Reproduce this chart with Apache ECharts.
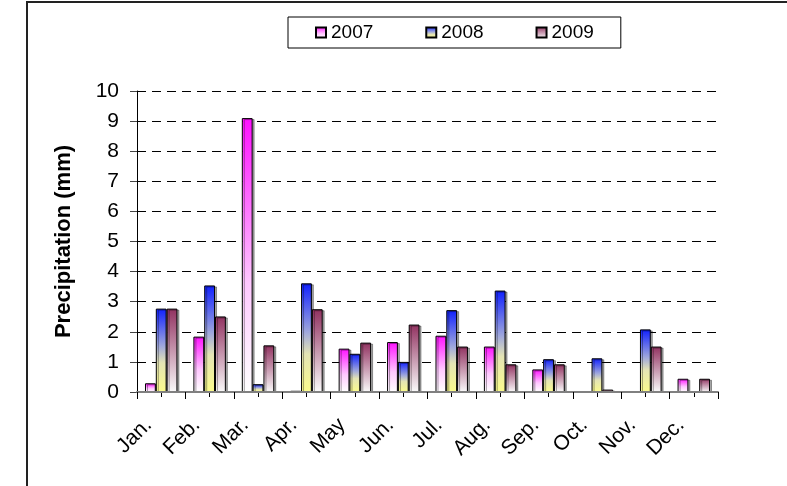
<!DOCTYPE html>
<html>
<head>
<meta charset="utf-8">
<script src="https://cdn.jsdelivr.net/npm/echarts@6/dist/echarts.min.js"></script>
<style>
  html, body { margin: 0; padding: 0; background: #fff; }
  #chart { width: 787px; height: 486px; }
</style>
</head>
<body>
<div id="chart"></div>
<script>
// month categories and monthly precipitation per year (mm); null = no bar drawn
const months = ["Jan.", "Feb.", "Mar.", "Apr.", "May", "Jun.", "Jul.", "Aug.", "Sep.", "Oct.", "Nov.", "Dec."];
const years = ["2007", "2008", "2009"];
const p2007 = [0.29, 1.84, 9.10, 0.04, 1.44, 1.66, 1.87, 1.51, 0.75, null, null, 0.44];
const p2008 = [2.77, 3.54, 0.26, 3.61, 1.27, 1.00, 2.72, 3.37, 1.09, 1.12, 2.08, null];
const p2009 = [2.77, 2.51, 1.55, 2.75, 1.64, 2.24, 1.51, 0.92, 0.92, 0.08, 1.51, 0.44];
const yTicks = [0, 1, 2, 3, 4, 5, 6, 7, 8, 9, 10];

const chart = echarts.init(document.getElementById("chart"));
const font = "Liberation Sans, Arial, sans-serif";

// vertical gradient per bar, top colour -> bottom colour
function grad(stops) {
  return new echarts.graphic.LinearGradient(0, 0, 0, 1,
    stops.map((c) => ({ offset: c[0], color: c[1] })));
}
const fills = [
  grad([[0, "#ff10ff"], [0.6, "#ffc8ff"], [1, "#ffffff"]]),
  grad([[0, "#1020ff"], [0.45, "#a0a8dc"], [0.65, "#e4e4b4"], [1, "#fbfb8c"]]),
  grad([[0, "#913160"], [1, "#fafafa"]])
];

function barSeries(name, data, fill) {
  return {
    name: name,
    type: "bar",
    data: data,
    barGap: "0%",
    barCategoryGap: "33%",
    itemStyle: {
      color: fill,
      borderColor: "#000",
      borderWidth: 1,
      shadowColor: "rgba(0,0,0,0.35)",
      shadowOffsetX: 2,
      shadowOffsetY: 1
    }
  };
}

const option = {
  animation: false,
  backgroundColor: "#fff",
  textStyle: { fontFamily: font, color: "#000" },
  graphic: [{
    type: "rect",
    shape: { x: 27, y: 2, width: 800, height: 600 },
    style: { fill: null, stroke: "#222", lineWidth: 2 },
    silent: true
  }],
  legend: {
    left: 288,
    top: 17,
    data: years,
    itemWidth: 10,
    itemHeight: 10,
    itemGap: 52,
    padding: [6, 27],
    borderColor: "#000",
    borderWidth: 1,
    backgroundColor: "#fff",
    icon: "rect",
    textStyle: { fontSize: 19, fontFamily: font, color: "#000" }
  },
  grid: { left: 137, right: 69, top: 91, bottom: 94, containLabel: false },
  xAxis: [{
    type: "category",
    data: months,
    z: 3,
    axisLine: { lineStyle: { color: "#808080", width: 2 } },
    axisTick: { show: true, length: 7, lineStyle: { color: "#000" } },
    axisLabel: {
      rotate: 45,
      fontSize: 21,
      fontFamily: font,
      color: "#000",
      margin: 17,
      padding: [0, 18, 0, 0],
      interval: 0
    }
  }, {
    // ticks at the centre of each month
    type: "category",
    data: months,
    position: "bottom",
    axisLine: { show: false },
    axisTick: { show: true, alignWithLabel: true, length: 5, lineStyle: { color: "#000" } },
    axisLabel: { show: false }
  }],
  yAxis: {
    type: "value",
    min: yTicks[0],
    max: yTicks[yTicks.length - 1],
    interval: 1,
    name: "Precipitation (mm)",
    nameLocation: "middle",
    nameGap: 62,
    nameTextStyle: { fontSize: 22, fontWeight: "bold", fontFamily: font, color: "#000" },
    axisLine: { show: true, lineStyle: { color: "#000", width: 1 } },
    axisTick: { show: true, length: 7, lineStyle: { color: "#444" } },
    axisLabel: { fontSize: 21, fontFamily: font, color: "#000", margin: 18 },
    splitLine: { show: true, lineStyle: { color: "#000", width: 1, type: [9, 6] } }
  },
  series: [
    barSeries(years[0], p2007, fills[0]),
    barSeries(years[1], p2008, fills[1]),
    barSeries(years[2], p2009, fills[2])
  ]
};

chart.setOption(option);
</script>
</body>
</html>
